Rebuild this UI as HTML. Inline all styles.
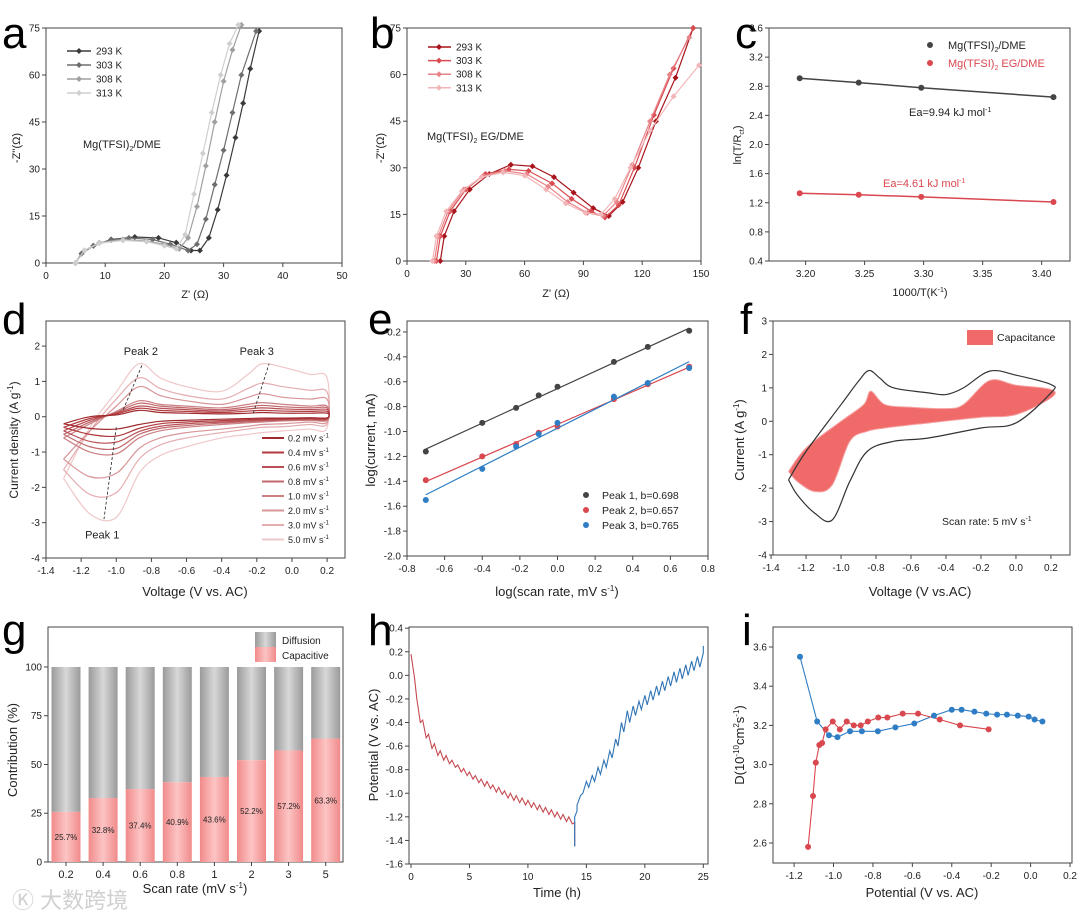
<!DOCTYPE html>
<html><head><meta charset="utf-8"><style>
html,body{margin:0;padding:0;background:#fff;}
svg{display:block;font-family:"Liberation Sans","Noto Sans CJK SC",sans-serif;}
</style></head><body>
<svg id="fig" width="1080" height="921" viewBox="0 0 1080 921" xmlns="http://www.w3.org/2000/svg">
<rect width="1080" height="921" fill="#fff"/>
<g font-size="44" fill="#000">
<text x="2" y="48">a</text>
<text x="370" y="48">b</text>
<text x="735" y="48">c</text>
<text x="2" y="334">d</text>
<text x="368" y="334">e</text>
<text x="740" y="334">f</text>
<text x="2" y="645">g</text>
<text x="368" y="645">h</text>
<text x="742" y="645">i</text>
</g>
<text x="12" y="908" font-size="22" fill="#d0d0d0">Ⓚ 大数跨境</text>
</svg>
<script>
const NS='http://www.w3.org/2000/svg';
const svg=document.getElementById('fig');
function mk(tag,attrs,name,parent){
  const el=document.createElementNS(NS,tag);
  for(const k in attrs) el.setAttribute(k,attrs[k]);
  
  
  (parent||svg).appendChild(el);
  return el;
}
function txt(x,y,s,name,o){
  o=o||{};
  const el=mk('text',{x:x,y:y,'font-size':o.size||10,'text-anchor':o.anchor||'start',fill:o.fill||'#222'},name,o.parent);
  if(o.rot) el.setAttribute('transform','rotate(-90 '+x+' '+y+')');
  el.innerHTML=s;
  return el;
}
function axis(c){
  const g=mk('g',{},c.name);
  const sx=v=>c.x0+(v-c.xmin)/(c.xmax-c.xmin)*(c.x1-c.x0);
  const sy=v=>c.y1-(v-c.ymin)/(c.ymax-c.ymin)*(c.y1-c.y0);
  mk('rect',{x:c.x0,y:c.y0,width:c.x1-c.x0,height:c.y1-c.y0,fill:'none',stroke:'#444','stroke-width':1},'plot-frame',g);
  (c.xt||[]).forEach((t,i)=>{
    mk('line',{x1:sx(t),x2:sx(t),y1:c.y1,y2:c.y1+4,stroke:'#444'},'x-tick',g);
    txt(sx(t),c.y1+16,(c.xl||c.xt)[i],'x-tick-label',{anchor:'middle',parent:g});
  });
  (c.yt||[]).forEach((t,i)=>{
    mk('line',{x1:c.x0-4,x2:c.x0,y1:sy(t),y2:sy(t),stroke:'#444'},'y-tick',g);
    txt(c.x0-6,sy(t)+3.5,(c.yl||c.yt)[i],'y-tick-label',{anchor:'end',parent:g});
  });
  return {sx,sy,g};
}
function poly(pts,A,color,name,w,parent){
  return mk('polyline',{points:pts.map(p=>A.sx(p[0])+','+A.sy(p[1])).join(' '),fill:'none',stroke:color,'stroke-width':w||1.2},name,parent||A.g);
}
function smooth(pts,A){
  const P=pts.map(p=>[A.sx(p[0]),A.sy(p[1])]);
  let d='M'+P[0][0]+','+P[0][1];
  for(let i=0;i<P.length-1;i++){
    const p0=P[i-1]||P[i],p1=P[i],p2=P[i+1],p3=P[i+2]||p2;
    d+=' C'+(p1[0]+(p2[0]-p0[0])/6)+','+(p1[1]+(p2[1]-p0[1])/6)+' '+(p2[0]-(p3[0]-p1[0])/6)+','+(p2[1]-(p3[1]-p1[1])/6)+' '+p2[0]+','+p2[1];
  }
  return d;
}
function diamond(x,y,c,parent){
  return mk('path',{d:'M'+x+','+(y-3)+' L'+(x+3)+','+y+' L'+x+','+(y+3)+' L'+(x-3)+','+y+'Z',fill:c},'marker',parent);
}

/* ---------- panel a data ---------- */
const aTemps=['293 K','303 K','308 K','313 K'];
const aColors=['#3a3a3a','#6e6e6e','#a0a0a0','#cfcfcf'];
const aData=[
 [[5,0],[6,3],[8,5.5],[11,7.5],[15,8.3],[19,8],[22,6.5],[24.5,4],[26,4],[27.5,8],[29,17],[30.5,28],[32,40],[33.3,51],[34.5,62],[36,74]],
 [[5,0],[6,3],[8,5.5],[11,7.3],[14,8],[18,7.5],[21,6],[24,4],[25.5,6],[27,14],[28.5,25],[30,36],[31.5,48],[33,60],[35.5,74]],
 [[5,0],[6.5,4],[9,6.5],[13,7.5],[17,7],[20,6],[22.5,4.5],[24,8],[25.5,18],[27,31],[28.5,45],[30,58],[31.5,68],[33,76]],
 [[5,0],[6.5,4],[9,6.3],[13,7.2],[17,6.8],[20,5.5],[22,4.5],[23.5,9],[25,22],[26.5,35],[28,48],[29.5,60],[31,70],[32.5,76]]
];
/* ---------- panel b data ---------- */
const bTemps=['293 K','303 K','308 K','313 K'];
const bColors=['#a8141c','#d84b50','#e88388','#f3b6b8'];
const bData=[
 [[17,0],[19,8],[24,16],[32,23],[42,28],[53,31],[64,30.5],[75,27],[85,22],[95,17],[103,14.5],[110,19],[118,30],[127,45],[137,59],[146,75]],
 [[15,0],[17,8],[22,16],[30,23],[40,28],[52,29.5],[62,29],[74,25],[84,20],[94,16],[101,14],[108,18],[116,30],[126,47],[136,62],[146,75]],
 [[14,0],[16,8],[21,16],[29,23],[39,27.5],[50,29],[61,28],[72,24],[82,19],[92,15.5],[100,14.5],[107,19],[115,31],[124,45],[134,60],[144,72]],
 [[13,0],[15,8],[20,16],[28,22.5],[38,27],[49,28.5],[60,27.5],[71,23],[81,18.5],[91,15.5],[99,15],[106,20],[114,30],[124,42],[136,53],[149,63]]
];
/* ---------- panel c data ---------- */
const cX=[3.195,3.245,3.298,3.41];
const cDME=[2.91,2.85,2.78,2.65];
const cEG=[1.33,1.31,1.28,1.21];
/* ---------- panel d data ---------- */
const dV=[-1.3,-1.15,-1.0,-0.87,-0.75,-0.6,-0.4,-0.25,-0.17,-0.05,0.1,0.2];
const dRates=['0.2','0.4','0.6','0.8','1.0','2.0','3.0','5.0'];
const dColors=['#a02a2e','#b03a3e','#b85055','#c0686c','#cc8084','#d89598','#e4adb0','#efc8ca'];
const dUp=[
 [-0.2,0,0.05,0.18,0.12,0.1,0.08,0.1,0.12,0.1,0.1,0.1],
 [-0.3,-0.05,0.08,0.24,0.18,0.15,0.12,0.16,0.18,0.16,0.15,0.15],
 [-0.4,-0.1,0.1,0.3,0.24,0.2,0.16,0.22,0.25,0.22,0.2,0.2],
 [-0.5,-0.15,0.12,0.38,0.3,0.25,0.2,0.28,0.32,0.28,0.25,0.25],
 [-0.6,-0.2,0.15,0.45,0.35,0.3,0.25,0.35,0.4,0.35,0.3,0.3],
 [-1.2,-0.4,0.3,0.85,0.6,0.45,0.35,0.55,0.65,0.55,0.5,0.5],
 [-1.5,-0.4,0.5,1.1,0.8,0.6,0.5,0.8,0.95,0.85,0.75,0.7],
 [-1.75,-0.3,0.7,1.5,1.1,0.85,0.72,1.2,1.5,1.4,1.2,1.1]
];
const dDn=[
 [-0.2,-0.33,-0.35,-0.22,-0.13,-0.1,-0.07,-0.05,-0.04,-0.04,-0.03,-0.03],
 [-0.3,-0.5,-0.55,-0.33,-0.2,-0.15,-0.11,-0.08,-0.07,-0.06,-0.05,-0.05],
 [-0.4,-0.7,-0.72,-0.42,-0.27,-0.2,-0.15,-0.11,-0.1,-0.08,-0.06,-0.06],
 [-0.5,-0.85,-0.9,-0.5,-0.33,-0.25,-0.18,-0.14,-0.12,-0.1,-0.08,-0.08],
 [-0.6,-1.0,-1.05,-0.6,-0.4,-0.3,-0.22,-0.17,-0.15,-0.12,-0.1,-0.1],
 [-1.2,-1.7,-1.6,-0.9,-0.6,-0.45,-0.35,-0.27,-0.22,-0.2,-0.15,-0.15],
 [-1.5,-2.2,-2.15,-1.2,-0.8,-0.6,-0.45,-0.35,-0.3,-0.28,-0.22,-0.2],
 [-1.75,-2.75,-2.85,-1.6,-1.1,-0.85,-0.6,-0.5,-0.45,-0.4,-0.35,-0.3]
];
/* ---------- panel e data ---------- */
const eX=[-0.7,-0.4,-0.22,-0.1,0,0.3,0.48,0.7];
const eP1=[-1.16,-0.93,-0.81,-0.71,-0.64,-0.44,-0.32,-0.19];
const eP2=[-1.39,-1.2,-1.1,-1.01,-0.96,-0.74,-0.62,-0.48];
const eP3=[-1.55,-1.3,-1.12,-1.02,-0.93,-0.72,-0.61,-0.49];
const eLabels=['Peak 1, b=0.698','Peak 2, b=0.657','Peak 3, b=0.765'];
/* ---------- panel f data ---------- */
const fOuter=[[-1.3,-1.75],[-1.2,-0.9],[-1.0,0.5],[-0.9,1.2],[-0.84,1.52],[-0.78,1.3],[-0.7,1.0],[-0.5,0.85],[-0.4,0.8],[-0.3,1.0],[-0.15,1.5],[0,1.38],[0.2,1.1],[0.2,0.85],[0.0,-0.05],[-0.2,-0.2],[-0.5,-0.5],[-0.7,-0.6],[-0.85,-0.9],[-0.95,-1.8],[-1.05,-2.95],[-1.15,-2.75],[-1.25,-2.2],[-1.3,-1.75]];
const fFill=[[-1.3,-1.5],[-1.2,-0.8],[-1.0,0.0],[-0.87,0.5],[-0.83,0.9],[-0.75,0.5],[-0.6,0.42],[-0.4,0.38],[-0.3,0.5],[-0.15,1.22],[0,1.08],[0.2,0.95],[0.2,0.7],[0,0.2],[-0.2,0.12],[-0.5,-0.05],[-0.75,-0.2],[-0.85,-0.3],[-0.95,-0.6],[-1.05,-1.9],[-1.15,-2.1],[-1.25,-1.8],[-1.3,-1.5]];
/* ---------- panel g data ---------- */
const gCats=['0.2','0.4','0.6','0.8','1','2','3','5'];
const gCap=[25.7,32.8,37.4,40.9,43.6,52.2,57.2,63.3];
/* ---------- panel h data ---------- */
const hDisT=[0,0.5,1,1.5,2,2.5,3,3.5,4,4.5,5,5.5,6,6.5,7,7.5,8,8.5,9,9.5,10,10.5,11,11.5,12,12.5,13,13.5];
const hDisE=[0.18,-0.2,-0.38,-0.5,-0.58,-0.64,-0.68,-0.72,-0.76,-0.79,-0.82,-0.85,-0.88,-0.9,-0.93,-0.95,-0.98,-1.0,-1.02,-1.04,-1.06,-1.08,-1.1,-1.12,-1.14,-1.16,-1.18,-1.2];
const hDisDrop=[0.2,0.2,0.15,0.12,0.1,0.08,0.07,0.06,0.06,0.06,0.06,0.06,0.06,0.06,0.06,0.06,0.06,0.06,0.06,0.06,0.06,0.06,0.06,0.06,0.06,0.06,0.06,0.06];
const hChT=[14.2,14.7,15.2,15.7,16.2,16.7,17.2,17.7,18.2,18.7,19.2,19.7,20.2,20.7,21.2,21.7,22.2,22.7,23.2,23.7,24.2,24.7];
const hChE=[-1.1,-1.0,-0.95,-0.9,-0.84,-0.78,-0.7,-0.6,-0.48,-0.4,-0.34,-0.29,-0.25,-0.21,-0.17,-0.13,-0.09,-0.06,-0.03,0.0,0.04,0.07];
const hChRise=[0.08,0.1,0.1,0.12,0.12,0.14,0.16,0.2,0.18,0.14,0.12,0.12,0.12,0.12,0.12,0.12,0.12,0.12,0.12,0.12,0.12,0.12];
/* ---------- panel i data ---------- */
const iBlueX=[-1.17,-1.083,-1.023,-0.98,-0.916,-0.856,-0.775,-0.686,-0.59,-0.49,-0.40,-0.35,-0.285,-0.225,-0.17,-0.12,-0.065,-0.01,0.02,0.06];
const iBlueY=[3.55,3.22,3.15,3.14,3.17,3.17,3.17,3.19,3.21,3.25,3.28,3.28,3.27,3.26,3.255,3.255,3.25,3.245,3.23,3.22];
const iRedX=[-1.129,-1.104,-1.09,-1.072,-1.058,-1.04,-1.004,-0.968,-0.933,-0.897,-0.862,-0.826,-0.773,-0.727,-0.649,-0.571,-0.461,-0.358,-0.213];
const iRedY=[2.58,2.84,3.01,3.10,3.11,3.18,3.22,3.18,3.22,3.2,3.2,3.22,3.24,3.24,3.26,3.26,3.23,3.2,3.18];

/* ===== panel a ===== */
{
const A=axis({name:'panel-a',x0:46,x1:342,y0:28,y1:263,xmin:0,xmax:50,ymin:0,ymax:75,xt:[0,10,20,30,40,50],yt:[0,15,30,45,60,75]});
aData.forEach((s,i)=>{
  poly(s,A,aColors[i],'series-'+aTemps[i].replace(' ',''));
  s.forEach(p=>diamond(A.sx(p[0]),A.sy(p[1]),aColors[i],A.g));
  const y=51+i*14;
  mk('line',{x1:67,x2:91,y1:y,y2:y,stroke:aColors[i],'stroke-width':1.5},'legend-line',A.g);
  diamond(79,y,aColors[i],A.g);
  txt(96,y+3.5,aTemps[i],'legend-label',{parent:A.g});
});
txt(83,148,'Mg(TFSI)<tspan font-size="7" dy="3">2</tspan><tspan dy="-3">/DME</tspan>','annotation',{size:11,parent:A.g});
txt(195,298,"Z' (Ω)",'x-axis-title',{size:11,anchor:'middle',parent:A.g});
txt(20,148,"-Z''(Ω)",'y-axis-title',{size:11,anchor:'middle',rot:1,parent:A.g});
}
/* ===== panel b ===== */
{
const A=axis({name:'panel-b',x0:407,x1:701,y0:28,y1:261,xmin:0,xmax:150,ymin:0,ymax:75,xt:[0,30,60,90,120,150],yt:[0,15,30,45,60,75]});
bData.forEach((s,i)=>{
  poly(s,A,bColors[i],'series-'+bTemps[i].replace(' ',''));
  s.forEach(p=>diamond(A.sx(p[0]),A.sy(p[1]),bColors[i],A.g));
  const y=47+i*13.6;
  mk('line',{x1:428,x2:451,y1:y,y2:y,stroke:bColors[i],'stroke-width':1.5},'legend-line',A.g);
  diamond(439,y,bColors[i],A.g);
  txt(456,y+3.5,bTemps[i],'legend-label',{parent:A.g});
});
txt(427,140,'Mg(TFSI)<tspan font-size="7" dy="3">2</tspan><tspan dy="-3"> EG/DME</tspan>','annotation',{size:11,parent:A.g});
txt(556,297,"Z' (Ω)",'x-axis-title',{size:11,anchor:'middle',parent:A.g});
txt(384,148,"-Z''(Ω)",'y-axis-title',{size:11,anchor:'middle',rot:1,parent:A.g});
}
/* ===== panel c ===== */
{
const A=axis({name:'panel-c',x0:769,x1:1070,y0:28,y1:261,xmin:3.169,xmax:3.424,ymin:0.4,ymax:3.6,xt:[3.2,3.25,3.3,3.35,3.4],xl:['3.20','3.25','3.30','3.35','3.40'],yt:[0.4,0.8,1.2,1.6,2.0,2.4,2.8,3.2,3.6],yl:['0.4','0.8','1.2','1.6','2.0','2.4','2.8','3.2','3.6']});
const k1=cX.map((x,i)=>[x,cDME[i]]), k2=cX.map((x,i)=>[x,cEG[i]]);
poly(k1,A,'#444','series-dme',1.5);poly(k2,A,'#d9474f','series-eg-dme',1.5);
k1.forEach(p=>mk('circle',{cx:A.sx(p[0]),cy:A.sy(p[1]),r:3,fill:'#444'},'point',A.g));
k2.forEach(p=>mk('circle',{cx:A.sx(p[0]),cy:A.sy(p[1]),r:3,fill:'#d9474f'},'point',A.g));
mk('circle',{cx:930,cy:45,r:3,fill:'#444'},'legend-marker',A.g);
txt(948,49,'Mg(TFSI)<tspan font-size="7" dy="3">2</tspan><tspan dy="-3">/DME</tspan>','legend-label',{size:11,parent:A.g});
mk('circle',{cx:930,cy:63,r:3,fill:'#d9474f'},'legend-marker',A.g);
txt(948,67,'Mg(TFSI)<tspan font-size="7" dy="3">2</tspan><tspan dy="-3"> EG/DME</tspan>','legend-label',{size:11,fill:'#d9474f',parent:A.g});
txt(909,116,'Ea=9.94 kJ mol<tspan font-size="7" dy="-4">-1</tspan>','annotation',{size:11,parent:A.g});
txt(883,187,'Ea=4.61 kJ mol<tspan font-size="7" dy="-4">-1</tspan>','annotation',{size:11,fill:'#d9474f',parent:A.g});
txt(920,296,'1000/T(K<tspan font-size="7" dy="-4">-1</tspan><tspan dy="4">)</tspan>','x-axis-title',{size:11,anchor:'middle',parent:A.g});
txt(741,145,'ln(T/R<tspan font-size="7" dy="3">ct</tspan><tspan dy="-3">)</tspan>','y-axis-title',{size:11,anchor:'middle',rot:1,parent:A.g});
}
/* ===== panel d ===== */
{
const A=axis({name:'panel-d',x0:46,x1:345,y0:321,y1:558,xmin:-1.4,xmax:0.302,ymin:-4,ymax:2.71,xt:[-1.4,-1.2,-1.0,-0.8,-0.6,-0.4,-0.2,0,0.2],xl:['-1.4','-1.2','-1.0','-0.8','-0.6','-0.4','-0.2','0.0','0.2'],yt:[-4,-3,-2,-1,0,1,2]});
for(let i=dRates.length-1;i>=0;i--){
  const pts=dV.map((v,j)=>[v,dUp[i][j]]).concat(dV.slice().reverse().map((v,j)=>[v,dDn[i][dV.length-1-j]]));
  mk('path',{d:smooth(pts,A),fill:'none',stroke:dColors[i],'stroke-width':1.2},'cv-'+dRates[i],A.g);
}
dRates.forEach((r,i)=>{
  const y=438+i*14.5;
  mk('line',{x1:262,x2:284,y1:y,y2:y,stroke:dColors[i],'stroke-width':2},'legend-line',A.g);
  txt(288,y+3.5,r+' mV s<tspan font-size="6" dy="-4">-1</tspan>','legend-label',{size:9,parent:A.g});
});
const ar=(x1,y1,x2,y2)=>{mk('line',{x1:A.sx(x1),y1:A.sy(y1),x2:A.sx(x2),y2:A.sy(y2),stroke:'#222','stroke-dasharray':'3,2','stroke-width':0.8},'peak-arrow',A.g);};
ar(-0.96,0.2,-0.85,1.5);ar(-0.22,0.1,-0.13,1.5);ar(-1.0,-0.3,-1.07,-2.9);
txt(A.sx(-0.86),A.sy(1.75),'Peak 2','annotation',{size:11,anchor:'middle',parent:A.g});
txt(A.sx(-0.2),A.sy(1.75),'Peak 3','annotation',{size:11,anchor:'middle',parent:A.g});
txt(A.sx(-1.08),A.sy(-3.45),'Peak 1','annotation',{size:11,anchor:'middle',parent:A.g});
txt(195,596,'Voltage (V vs. AC)','x-axis-title',{size:13,anchor:'middle',parent:A.g});
txt(18,440,'Current density (A g<tspan font-size="8" dy="-5">-1</tspan><tspan dy="5">)</tspan>','y-axis-title',{size:12,anchor:'middle',rot:1,parent:A.g});
}
/* ===== panel e ===== */
{
const A=axis({name:'panel-e',x0:407,x1:708,y0:321,y1:556,xmin:-0.8,xmax:0.8,ymin:-2.0,ymax:-0.112,xt:[-0.8,-0.6,-0.4,-0.2,0,0.2,0.4,0.6,0.8],xl:['-0.8','-0.6','-0.4','-0.2','0.0','0.2','0.4','0.6','0.8'],yt:[-2,-1.8,-1.6,-1.4,-1.2,-1.0,-0.8,-0.6,-0.4,-0.2],yl:['-2.0','-1.8','-1.6','-1.4','-1.2','-1.0','-0.8','-0.6','-0.4','-0.2']});
const cols=['#444','#d9474f','#2f7dc4'];
[eP1,eP2,eP3].forEach((ys,k)=>{
  const n=eX.length,mx=eX.reduce((a,b)=>a+b)/n,my=ys.reduce((a,b)=>a+b)/n;
  let sxy=0,sxx=0;eX.forEach((x,i)=>{sxy+=(x-mx)*(ys[i]-my);sxx+=(x-mx)*(x-mx);});
  const b=sxy/sxx,a=my-b*mx;
  poly([[-0.7,a-0.7*b],[0.7,a+0.7*b]],A,cols[k],'fit-line-'+(k+1),1.2);
  eX.forEach((x,i)=>mk('circle',{cx:A.sx(x),cy:A.sy(ys[i]),r:3,fill:cols[k]},'point',A.g));
  mk('circle',{cx:586,cy:495+k*15,r:3,fill:cols[k]},'legend-marker',A.g);
  txt(602,499+k*15,eLabels[k],'legend-label',{size:10.5,parent:A.g});
});
txt(557,596,'log(scan rate, mV s<tspan font-size="8" dy="-5">-1</tspan><tspan dy="5">)</tspan>','x-axis-title',{size:13,anchor:'middle',parent:A.g});
txt(375,440,'log(current, mA)','y-axis-title',{size:13,anchor:'middle',rot:1,parent:A.g});
}
/* ===== panel f ===== */
{
const A=axis({name:'panel-f',x0:773,x1:1070,y0:321,y1:555,xmin:-1.389,xmax:0.309,ymin:-4,ymax:3,xt:[-1.4,-1.2,-1.0,-0.8,-0.6,-0.4,-0.2,0,0.2],xl:['-1.4','-1.2','-1.0','-0.8','-0.6','-0.4','-0.2','0.0','0.2'],yt:[-4,-3,-2,-1,0,1,2,3]});
mk('path',{d:smooth(fFill,A)+'Z',fill:'#f06a6a',stroke:'#f5a0a0','stroke-width':1},'capacitance-area',A.g);
mk('path',{d:smooth(fOuter,A),fill:'none',stroke:'#333','stroke-width':1.2},'cv-curve',A.g);
mk('rect',{x:967,y:330,width:26,height:15,fill:'#f06a6a'},'legend-swatch',A.g);
txt(997,341,'Capacitance','legend-label',{size:10.5,parent:A.g});
txt(942,525,'Scan rate: 5 mV s<tspan font-size="7" dy="-4">-1</tspan>','annotation',{size:10.5,parent:A.g});
txt(920,596,'Voltage (V vs.AC)','x-axis-title',{size:13,anchor:'middle',parent:A.g});
txt(744,440,'Current (A g<tspan font-size="8" dy="-5">-1</tspan><tspan dy="5">)</tspan>','y-axis-title',{size:13,anchor:'middle',rot:1,parent:A.g});
}
/* ===== panel g ===== */
{
const A=axis({name:'panel-g',x0:48,x1:343,y0:627,y1:862,xmin:0,xmax:1,ymin:0,ymax:120.5,yt:[0,25,50,75,100]});
const defs=mk('defs',{},'gradients');
defs.innerHTML='<linearGradient id="gGray" x1="0" x2="1"><stop offset="0" stop-color="#9a9a9a"/><stop offset="0.5" stop-color="#d8d8d8"/><stop offset="1" stop-color="#9a9a9a"/></linearGradient><linearGradient id="gPink" x1="0" x2="1"><stop offset="0" stop-color="#f18a8a"/><stop offset="0.5" stop-color="#fcc4c4"/><stop offset="1" stop-color="#f18a8a"/></linearGradient>';
gCats.forEach((c,i)=>{
  const cx=66+37.1*i,w=29;
  mk('rect',{x:cx-w/2,y:A.sy(100),width:w,height:A.sy(gCap[i])-A.sy(100),fill:'url(#gGray)'},'bar-diffusion-'+c,A.g);
  mk('rect',{x:cx-w/2,y:A.sy(gCap[i]),width:w,height:A.sy(0)-A.sy(gCap[i]),fill:'url(#gPink)'},'bar-capacitive-'+c,A.g);
  txt(cx,A.sy(gCap[i]/2)+3,gCap[i].toFixed(1)+'%','bar-value',{size:8,anchor:'middle',parent:A.g});
  mk('line',{x1:cx,x2:cx,y1:862,y2:866,stroke:'#444'},'x-tick',A.g);
  txt(cx,878,c,'x-tick-label',{size:11,anchor:'middle',parent:A.g});
});
mk('rect',{x:255,y:632,width:21,height:15,fill:'url(#gGray)'},'legend-swatch',A.g);
txt(282,644,'Diffusion','legend-label',{parent:A.g});
mk('rect',{x:255,y:647,width:21,height:15,fill:'url(#gPink)'},'legend-swatch',A.g);
txt(282,659,'Capacitive','legend-label',{parent:A.g});
txt(195,893,'Scan rate (mV s<tspan font-size="8" dy="-5">-1</tspan><tspan dy="5">)</tspan>','x-axis-title',{size:13,anchor:'middle',parent:A.g});
txt(17,750,'Contribution (%)','y-axis-title',{size:13,anchor:'middle',rot:1,parent:A.g});
}
/* ===== panel h ===== */
{
const A=axis({name:'panel-h',x0:409,x1:708,y0:627,y1:864,xmin:-0.17,xmax:25.4,ymin:-1.6,ymax:0.41,xt:[0,5,10,15,20,25],yt:[-1.6,-1.4,-1.2,-1.0,-0.8,-0.6,-0.4,-0.2,0,0.2,0.4],yl:['-1.6','-1.4','-1.2','-1.0','-0.8','-0.6','-0.4','-0.2','0.0','0.2','0.4']});
const dis=[];
hDisT.forEach((t,i)=>{dis.push([t,hDisE[i]]);dis.push([t+0.3,hDisE[i]-hDisDrop[i]]);});
dis.push([14,-1.25]);dis.push([14,-1.45]);
poly(dis,A,'#c44a50','discharge-curve',1.1);
const ch=[[14,-1.45],[14,-1.2],[14.2,-1.15]];
hChT.forEach((t,i)=>{ch.push([t,hChE[i]]);ch.push([t+0.3,hChE[i]+hChRise[i]]);});
ch.push([25,0.25]);
poly(ch,A,'#2f74b5','charge-curve',1.1);
txt(557,897,'Time (h)','x-axis-title',{size:13,anchor:'middle',parent:A.g});
txt(378,745,'Potential (V vs. AC)','y-axis-title',{size:13,anchor:'middle',rot:1,parent:A.g});
}
/* ===== panel i ===== */
{
const A=axis({name:'panel-i',x0:773,x1:1072,y0:627,y1:863,xmin:-1.307,xmax:0.21,ymin:2.498,ymax:3.702,xt:[-1.2,-1.0,-0.8,-0.6,-0.4,-0.2,0,0.2],xl:['-1.2','-1.0','-0.8','-0.6','-0.4','-0.2','0.0','0.2'],yt:[2.6,2.8,3.0,3.2,3.4,3.6],yl:['2.6','2.8','3.0','3.2','3.4','3.6']});
const bl=iBlueX.map((x,i)=>[x,iBlueY[i]]),rd=iRedX.map((x,i)=>[x,iRedY[i]]);
poly(bl,A,'#2f7dc4','series-blue',1.1);poly(rd,A,'#d9474f','series-red',1.1);
bl.forEach(p=>mk('circle',{cx:A.sx(p[0]),cy:A.sy(p[1]),r:3,fill:'#2f7dc4'},'point',A.g));
rd.forEach(p=>mk('circle',{cx:A.sx(p[0]),cy:A.sy(p[1]),r:3,fill:'#d9474f'},'point',A.g));
txt(922,897,'Potential (V vs. AC)','x-axis-title',{size:13,anchor:'middle',parent:A.g});
txt(744,745,'D(10<tspan font-size="8" dy="-5">-10</tspan><tspan dy="5">cm</tspan><tspan font-size="8" dy="-5">2</tspan><tspan dy="5">s</tspan><tspan font-size="8" dy="-5">-1</tspan><tspan dy="5">)</tspan>','y-axis-title',{size:13,anchor:'middle',rot:1,parent:A.g});
}
</script>
</body></html>
